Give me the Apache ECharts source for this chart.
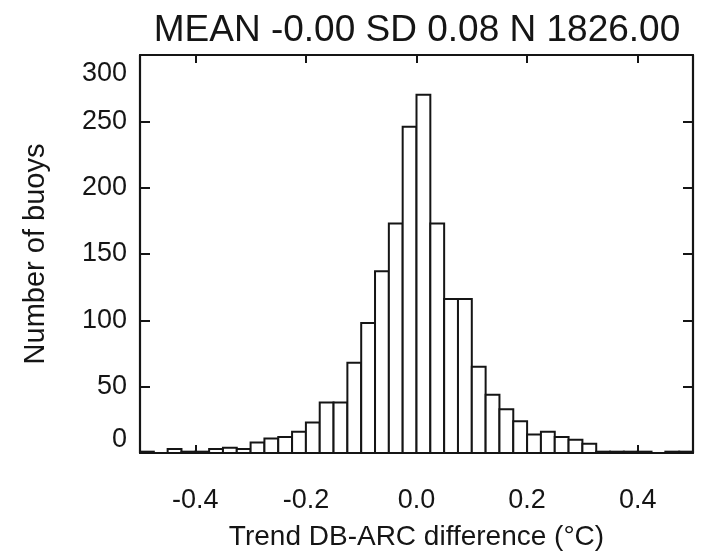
<!DOCTYPE html>
<html>
<head>
<meta charset="utf-8">
<script src="https://cdn.jsdelivr.net/npm/echarts@6/dist/echarts.min.js"></script>
<style>
html,body{margin:0;padding:0;background:#fff;}
#chart{width:704px;height:551px;}
</style>
</head>
<body>
<div id="chart"></div>
<script>
// Histogram bins (left edges, width 0.025) and counts
var binLeft = [-0.500,-0.475,-0.450,-0.425,-0.400,-0.375,-0.350,-0.325,-0.300,-0.275,
               -0.250,-0.225,-0.200,-0.175,-0.150,-0.125,-0.100,-0.075,-0.050,-0.025,
                0.000, 0.025, 0.050, 0.075, 0.100, 0.125, 0.150, 0.175, 0.200, 0.225,
                0.250, 0.275, 0.300, 0.325, 0.350, 0.375, 0.400, 0.425, 0.450, 0.475];
var binRight = [-0.475,-0.450,-0.425,-0.400,-0.375,-0.350,-0.325,-0.300,-0.275,-0.250,
                -0.225,-0.200,-0.175,-0.150,-0.125,-0.100,-0.075,-0.050,-0.025, 0.000,
                 0.025, 0.050, 0.075, 0.100, 0.125, 0.150, 0.175, 0.200, 0.225, 0.250,
                 0.275, 0.300, 0.325, 0.350, 0.375, 0.400, 0.425, 0.450, 0.475, 0.500];
var counts = [1, 0, 3, 1, 1, 3, 4, 3, 8, 11,
              12, 16, 23, 38, 38, 68, 98, 137, 173, 246,
              270, 173, 116, 116, 65, 44, 33, 24, 14, 16,
              12, 10, 7, 1, 1, 1, 1, 0, 1, 1];
var xTicks = [-0.4, -0.2, 0.0, 0.2, 0.4];
var yTicks = [0, 50, 100, 150, 200, 250, 300];
var titleText = 'MEAN -0.00 SD 0.08 N 1826.00';
var xName = 'Trend DB-ARC difference (°C)';
var yName = 'Number of buoys';

var data = binLeft.map(function (l, i) { return [l, binRight[i], counts[i]]; });

var FONT = 'Liberation Sans';
var INK = '#151515';

var chart = echarts.init(document.getElementById('chart'), null, {renderer: 'canvas'});
chart.setOption({
  animation: false,
  backgroundColor: '#fff',
  title: {
    text: titleText,
    left: 412, top: 7, textAlign: 'center',
    textStyle: {fontFamily: FONT, fontSize: 37, fontWeight: 'normal', color: INK}
  },
  grid: {left: 140, right: 11, top: 55, bottom: 98, containLabel: false, outerBoundsMode: 'none'},
  xAxis: [{
    type: 'value', position: 'bottom', min: -0.5, max: 0.5,
    name: xName, nameLocation: 'middle', nameGap: 70,
    nameTextStyle: {fontFamily: FONT, fontSize: 28, color: INK},
    axisLine: {show: true, onZero: false, lineStyle: {color: INK, width: 2.2}},
    axisTick: {show: true, inside: true, length: 8, customValues: xTicks, lineStyle: {color: INK, width: 2}},
    axisLabel: {customValues: xTicks, margin: 34, fontFamily: FONT, fontSize: 27, color: INK,
      formatter: function (v) { return v.toFixed(1); }},
    splitLine: {show: false}
  }, {
    type: 'value', position: 'top', min: -0.5, max: 0.5,
    axisLine: {show: true, onZero: false, lineStyle: {color: INK, width: 2.2}},
    axisTick: {show: true, inside: true, length: 8, customValues: xTicks, lineStyle: {color: INK, width: 2}},
    axisLabel: {show: false},
    splitLine: {show: false}
  }],
  yAxis: [{
    type: 'value', position: 'left', min: 0, max: 300, interval: 50,
    name: yName, nameLocation: 'middle', nameGap: 90,
    nameTextStyle: {fontFamily: FONT, fontSize: 29, color: INK},
    axisLine: {show: true, onZero: false, lineStyle: {color: INK, width: 2.2}},
    axisTick: {show: true, inside: true, length: 10, lineStyle: {color: INK, width: 2}},
    axisLabel: {margin: 13, fontFamily: FONT, fontSize: 27, color: INK, padding: [5, 0, 0, 0],
      verticalAlignMinLabel: 'bottom', verticalAlignMaxLabel: 'top'},
    splitLine: {show: false}
  }, {
    type: 'value', position: 'right', min: 0, max: 300, interval: 50,
    axisLine: {show: true, onZero: false, lineStyle: {color: INK, width: 2.2}},
    axisTick: {show: true, inside: true, length: 10, lineStyle: {color: INK, width: 2}},
    axisLabel: {show: false},
    splitLine: {show: false}
  }],
  series: [{
    type: 'custom',
    xAxisIndex: 0, yAxisIndex: 0,
    data: data,
    encode: {x: [0, 1], y: 2},
    clip: true,
    renderItem: function (params, api) {
      var p0 = api.coord([api.value(0), 0]);
      var p1 = api.coord([api.value(1), api.value(2)]);
      return {
        type: 'rect',
        shape: {x: p0[0], y: p1[1], width: p1[0] - p0[0], height: p0[1] - p1[1]},
        style: {fill: '#fff', stroke: INK, lineWidth: 2}
      };
    }
  }]
});
</script>
</body>
</html>
